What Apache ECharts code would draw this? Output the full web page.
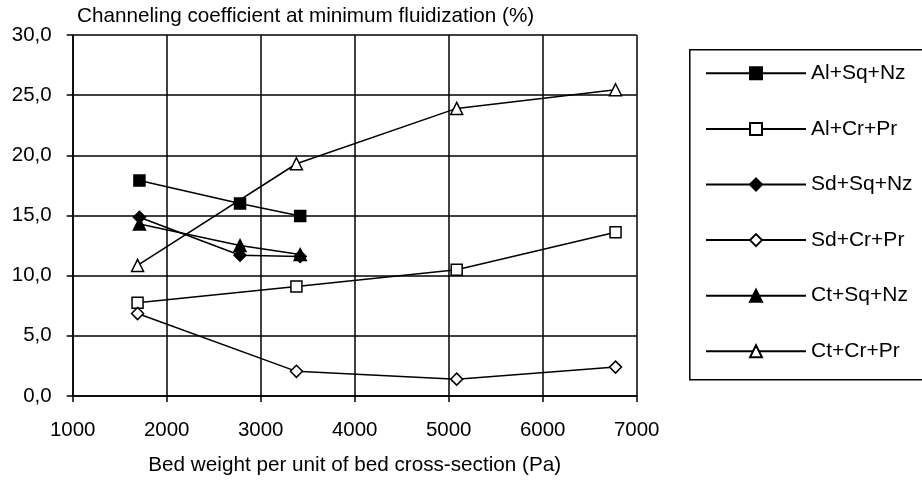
<!DOCTYPE html>
<html>
<head>
<meta charset="utf-8">
<script src="https://cdn.jsdelivr.net/npm/echarts@6/dist/echarts.min.js"></script>
<style>html,body{margin:0;padding:0;background:#fff;}#c{width:922px;height:481px;}</style>
</head>
<body>
<div id="c"></div>
<script>
var seriesNames = ['Al+Sq+Nz', 'Al+Cr+Pr', 'Sd+Sq+Nz', 'Sd+Cr+Pr', 'Ct+Sq+Nz', 'Ct+Cr+Pr'];
var xSqNz = [1710, 2780, 3420];
var xCrPr = [1690, 3380, 5085, 6775];
var alSqNz = [17.9, 16.0, 14.95];
var alCrPr = [7.75, 9.1, 10.5, 13.6];
var sdSqNz = [14.85, 11.7, 11.6];
var sdCrPr = [6.85, 2.05, 1.4, 2.4];
var ctSqNz = [14.3, 12.5, 11.75];
var ctCrPr = [10.85, 19.3, 23.9, 25.45];
var yTitle = 'Channeling coefficient at minimum fluidization (%)';
var xTitle = 'Bed weight per unit of bed cross-section (Pa)';

function pairs(xs, ys) { return xs.map(function (x, i) { return [x, ys[i]]; }); }

var FONT = 'Liberation Sans, Arial, sans-serif';
var specs = [
  { x: xSqNz, y: alSqNz, symbol: 'rect', size: 11, fill: '#000' },
  { x: xCrPr, y: alCrPr, symbol: 'rect', size: 11, fill: '#fff' },
  { x: xSqNz, y: sdSqNz, symbol: 'diamond', size: 12, fill: '#000' },
  { x: xCrPr, y: sdCrPr, symbol: 'diamond', size: 12, fill: '#fff' },
  { x: xSqNz, y: ctSqNz, symbol: 'triangle', size: 12, fill: '#000' },
  { x: xCrPr, y: ctCrPr, symbol: 'triangle', size: 12, fill: '#fff' }
];

var series = specs.map(function (s, i) {
  return {
    name: seriesNames[i],
    type: 'line',
    data: pairs(s.x, s.y),
    symbol: s.symbol,
    symbolSize: s.size,
    showAllSymbol: true,
    animation: false,
    lineStyle: { color: '#000', width: 1.5 },
    itemStyle: { color: s.fill, borderColor: '#000', borderWidth: 1.5 },
    z: 3
  };
});

var chart = echarts.init(document.getElementById('c'), null, { renderer: 'canvas' });
chart.setOption({
  animation: false,
  backgroundColor: '#fff',
  title: {
    text: yTitle, left: 77, top: 6, padding: 0,
    textStyle: { fontFamily: FONT, fontSize: 20.7, fontWeight: 'normal', color: '#000' }
  },
  grid: { left: 72.7, right: 285.3, top: 35, bottom: 82.3, containLabel: false },
  xAxis: {
    type: 'value', min: 1000, max: 7000, interval: 1000,
    name: xTitle, nameLocation: 'middle', nameGap: 59,
    nameTextStyle: { fontFamily: FONT, fontSize: 20.7, color: '#000' },
    axisLine: { show: true, onZero: false, lineStyle: { color: '#000', width: 1.5 } },
    axisTick: { show: true, inside: false, length: 6, lineStyle: { color: '#000', width: 1.5 } },
    axisLabel: {
      margin: 24, fontFamily: FONT, fontSize: 20.5, color: '#000',
      formatter: function (v) { return String(v); }
    },
    splitLine: { show: true, lineStyle: { color: '#000', width: 1.5 } }
  },
  yAxis: {
    type: 'value', min: 0, max: 30, interval: 5,
    axisLine: { show: true, lineStyle: { color: '#000', width: 1.5 } },
    axisTick: { show: true, inside: false, length: 6, lineStyle: { color: '#000', width: 1.5 } },
    axisLabel: {
      margin: 21, fontFamily: FONT, fontSize: 20.5, color: '#000',
      formatter: function (v) { return v.toFixed(1).replace('.', ','); }
    },
    splitLine: { show: true, lineStyle: { color: '#000', width: 1.5 } }
  },
  legend: {
    orient: 'vertical', left: 705, top: 62.8, padding: 0,
    itemWidth: 100, itemHeight: 15, itemGap: 34.6,
    data: seriesNames,
    textStyle: { fontFamily: FONT, fontSize: 21, color: '#000' }
  },
  graphic: [{
    type: 'rect', left: 687.3, top: 47.3,
    shape: { x: 0, y: 0, width: 233.7, height: 330 },
    style: { fill: 'none', stroke: '#000', lineWidth: 1.5 },
    silent: true
  }],
  series: series
});
</script>
</body>
</html>
